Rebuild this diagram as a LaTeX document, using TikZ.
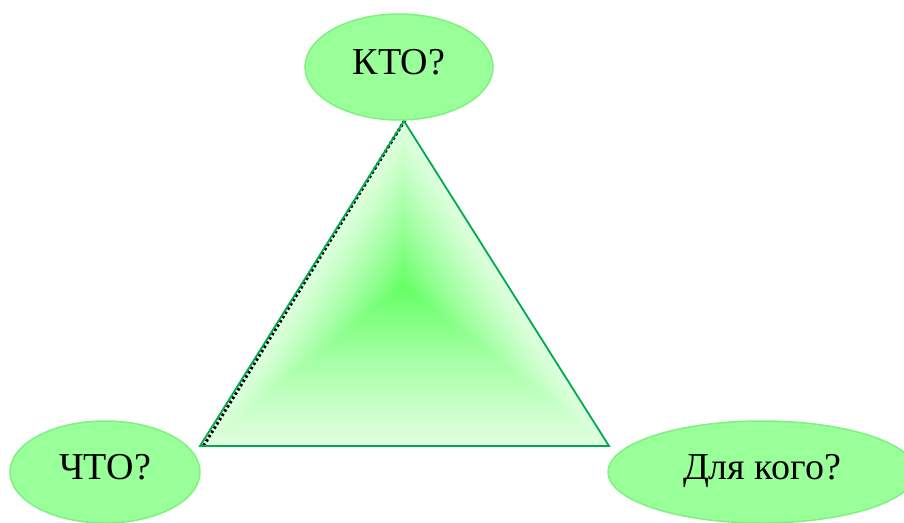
\documentclass[tikz,border=0pt]{standalone}
\usepackage{fontspec}
\setmainfont{Liberation Serif}
\usetikzlibrary{shapes.geometric,calc}
\definecolor{ellfill}{RGB}{153,255,153}
\definecolor{elldraw}{RGB}{128,240,128}
\definecolor{triedge}{RGB}{0,170,80}
\definecolor{tricenter}{RGB}{100,255,100}
\definecolor{triouter}{RGB}{222,255,222}
\tikzset{
  bubble/.style={ellipse, fill=ellfill, draw=elldraw, line width=1.5pt, inner sep=0pt,
    font=\fontsize{38}{42}\selectfont, text=black, text height=25pt, text depth=10pt},
}
\begin{document}
\begin{tikzpicture}[x=1pt,y=-1pt]
\useasboundingbox (0,0) rectangle (904,522);
\coordinate (A) at (404,121);
\coordinate (B) at (200,446);
\coordinate (C) at (609,446);
\coordinate (P) at (404,287);
\foreach \i in {0,...,60}{
  \pgfmathsetmacro{\s}{1-\i/60}
  \pgfmathsetmacro{\t}{100*(\i/60)^1.2}
  \fill[tricenter!\t!triouter] ($(P)!\s!(A)$) -- ($(P)!\s!(B)$) -- ($(P)!\s!(C)$) -- cycle;
}
\draw[black, line width=3pt, dash pattern=on 2.5pt off 2.5pt] ([xshift=3.4pt,yshift=5pt]A) -- ([xshift=3.4pt]B);
\draw[triedge, line width=1.8pt, line join=miter] (A) -- (B) -- (C) -- cycle;
\node[bubble, minimum width=188, minimum height=106] (kto) at (399,67) {КТО?};
\node[bubble, minimum width=190, minimum height=102] (chto) at (105,472) {ЧТО?};
\node[bubble, minimum width=308, minimum height=102] (dlya) at (762,472) {Для кого?};
\end{tikzpicture}
\end{document}
